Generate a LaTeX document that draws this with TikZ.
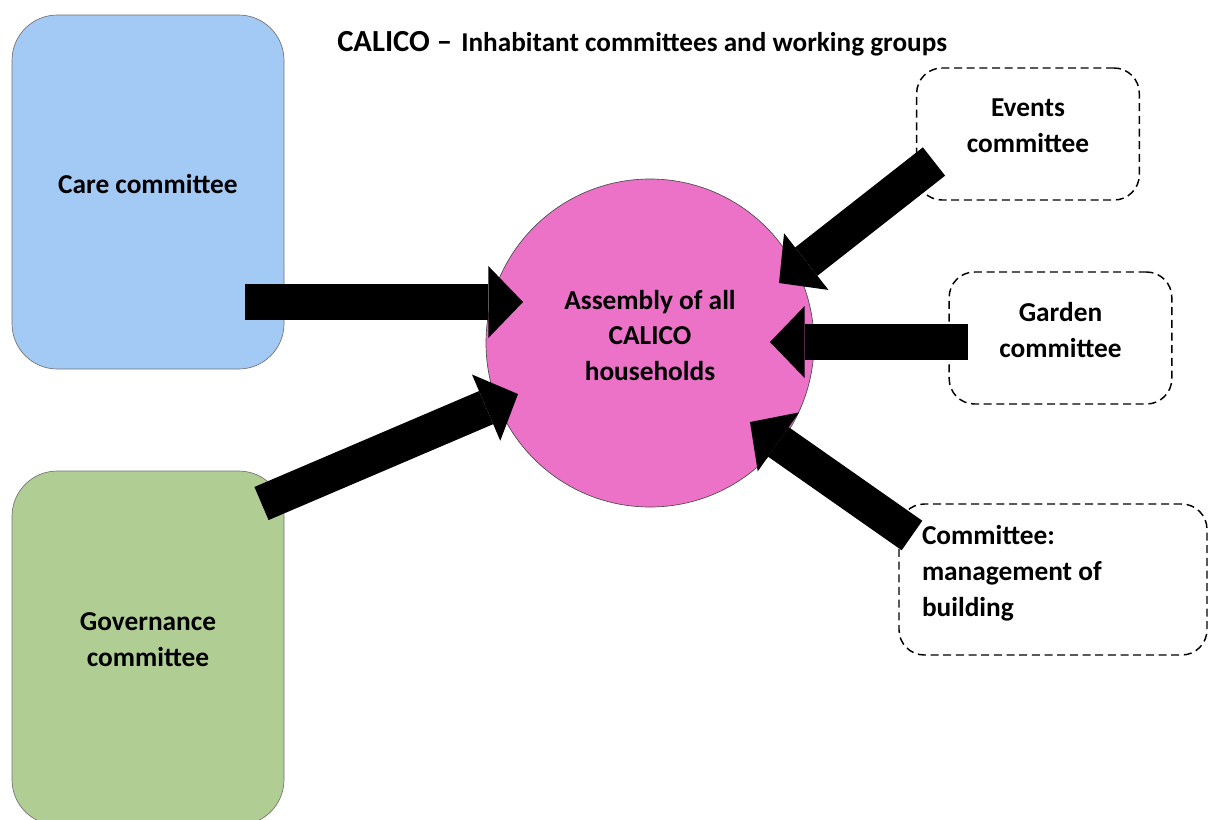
\documentclass[tikz,border=0pt]{standalone}
\usepackage{fontspec}
\setmainfont{Carlito}
\usetikzlibrary{arrows.meta}
\definecolor{careblue}{RGB}{163,201,245}
\definecolor{govgreen}{RGB}{176,205,148}
\definecolor{asmpink}{RGB}{236,114,200}
\tikzset{
  committee/.style={rectangle, rounded corners=34pt, draw=black!55, line width=0.5pt,
    minimum width=204pt, minimum height=265.5pt, align=center, text depth=12pt,
    font=\fontsize{20.5}{27}\selectfont\bfseries},
  group/.style={rectangle, rounded corners=19pt, draw, line width=1.1pt,
    dash pattern=on 6pt off 3.5pt, minimum width=167pt, minimum height=99pt,
    align=center, text depth=12pt, font=\fontsize{20.5}{27}\selectfont\bfseries},
  feed/.style={line width=27pt, -{Triangle[length=26pt,width=54pt,line width=0pt]}}
}
\begin{document}
\begin{tikzpicture}[x=0.75pt,y=-0.75pt]
\useasboundingbox[fill=white] (0,0) rectangle (1208,819);
\begin{scope}
\clip (0,0) rectangle (1208,819);
\node[committee, fill=careblue] (care) at (148,192) {Care committee};
\node[committee, fill=govgreen] (gov) at (148,648) {Governance\\committee};
\node[circle, draw=black!70, line width=0.5pt, fill=asmpink, minimum size=246pt,
  align=center, text depth=12pt, font=\fontsize{20.5}{26.6}\selectfont\bfseries] (asm) at (650,343)
  {Assembly of all\\CALICO\\households};
\node[group] (events) at (1028,134) {Events\\committee};
\node[group] (garden) at (1060.5,338) {Garden\\committee};
\node[group, minimum width=231pt, minimum height=113.25pt, text width=196.5pt,
  text depth=66.5pt, align=flush left] (build) at (1053,579.5) {Committee:\\management of\\building};
\end{scope}
\node[anchor=base west, inner sep=0pt] (title) at (337,51)
  {\bfseries\fontsize{23}{28}\selectfont CALICO –\hspace{0.3em}\fontsize{20.4}{24}\selectfont Inhabitant committees and working groups};
% arrow ends
\coordinate (careT) at (245,302);   \coordinate (careH) at (523,302);
\coordinate (govT) at (261.5,503.5); \coordinate (govH) at (518,394);
\coordinate (eventsT) at (934,161.5); \coordinate (eventsH) at (779,283);
\coordinate (gardenT) at (968,342); \coordinate (gardenH) at (770,342);
\coordinate (buildT) at (912,535.5); \coordinate (buildH) at (750,422);
\foreach \t in {care,gov,events,garden,build}
  \draw[feed] (\t T) -- (\t H);
\end{tikzpicture}
\end{document}
